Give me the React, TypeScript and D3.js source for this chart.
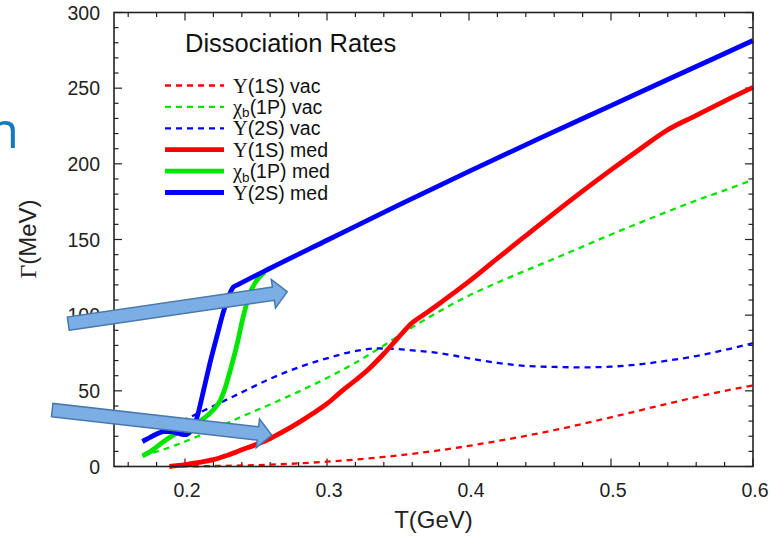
import React from 'react';
import * as d3 from 'd3';

// Axis ranges and ticks
const T_DOMAIN: [number, number] = [0.15, 0.6];
const G_DOMAIN: [number, number] = [0, 300];
const X_TICKS = [0.2, 0.3, 0.4, 0.5, 0.6];
const Y_TICKS = [0, 50, 100, 150, 200, 250, 300];

// Dissociation widths Γ (MeV) versus temperature T (GeV)
const upsilon1SVac: [number, number][] = [
  [0.19, 0], [0.22, 0.3], [0.26, 1.2], [0.30, 3.2], [0.34, 6.3], [0.38, 10.8],
  [0.42, 16.8], [0.46, 24], [0.50, 32.5], [0.54, 41.5], [0.58, 50], [0.60, 53.5],
];
const chib1PVac: [number, number][] = [
  [0.17, 7.5], [0.18, 9.8], [0.20, 16.5], [0.22, 24.5], [0.24, 33], [0.26, 41],
  [0.28, 49.5], [0.30, 58.5], [0.32, 68.5], [0.34, 80], [0.36, 92], [0.38, 103],
  [0.40, 113], [0.42, 121.5], [0.44, 129.5], [0.46, 137.3], [0.48, 145.3],
  [0.50, 153.3], [0.52, 161], [0.54, 168.5], [0.56, 175.8], [0.58, 182.5], [0.60, 189.5],
];
const upsilon2SVac: [number, number][] = [
  [0.17, 17.5], [0.18, 22], [0.20, 31], [0.22, 40], [0.24, 49], [0.26, 58],
  [0.28, 65.5], [0.30, 71.5], [0.32, 76.3], [0.335, 78], [0.35, 77.6], [0.36, 76.8],
  [0.38, 74.8], [0.40, 71.5], [0.42, 68.5], [0.44, 66.5], [0.46, 65.8], [0.48, 65.5],
  [0.50, 66], [0.52, 67.5], [0.54, 70], [0.56, 73], [0.58, 77], [0.60, 81.5],
];
const upsilon1SMed: [number, number][] = [
  [0.189, 0], [0.20, 1.2], [0.21, 2.8], [0.22, 4.5], [0.23, 7.5], [0.24, 11],
  [0.25, 14.5], [0.26, 18.5], [0.27, 23.5], [0.28, 29], [0.29, 35], [0.30, 41.5],
  [0.31, 49.5], [0.32, 57], [0.33, 65], [0.34, 74.5], [0.35, 85], [0.36, 95],
  [0.37, 101.5], [0.38, 108.2], [0.39, 115.2], [0.40, 122.3], [0.42, 137.5],
  [0.44, 152.5], [0.46, 167.5], [0.48, 182], [0.50, 196], [0.52, 209.5],
  [0.54, 222.5], [0.56, 232], [0.58, 241.5], [0.60, 250.5],
];
const chib1PMed: [number, number][] = [
  [0.17, 7], [0.175, 9.5], [0.185, 16.5], [0.195, 22.5], [0.205, 27], [0.212, 31],
  [0.22, 37.5], [0.225, 44], [0.229, 54], [0.232, 64], [0.2365, 80], [0.241, 99],
  [0.2455, 114], [0.2505, 123], [0.256, 128.5],
];
const upsilon2SMed: [number, number][] = [
  [0.17, 16.5], [0.175, 19], [0.18, 21.5], [0.185, 23], [0.19, 23], [0.195, 22],
  [0.20, 21], [0.204, 23.5], [0.208, 31], [0.213, 50], [0.218, 70], [0.223, 88],
  [0.227, 102], [0.231, 113], [0.234, 118.5], [0.237, 120], [0.26, 131],
  [0.30, 149.5], [0.35, 172.5], [0.40, 195], [0.45, 217], [0.50, 238.5],
  [0.55, 260], [0.60, 281.5],
];

const RED = '#ff0000';
const GREEN = '#00e600';
const BLUE = '#0000ff';

type Series = {
  data: [number, number][];
  color: string;
  dashed: boolean;
  sym: string;
  sub?: string;
  rest: string;
};

const SERIES: Series[] = [
  { data: upsilon1SVac, color: RED, dashed: true, sym: 'Υ', rest: '(1S) vac' },
  { data: chib1PVac, color: GREEN, dashed: true, sym: 'χ', sub: 'b', rest: '(1P) vac' },
  { data: upsilon2SVac, color: BLUE, dashed: true, sym: 'Υ', rest: '(2S) vac' },
  { data: upsilon1SMed, color: RED, dashed: false, sym: 'Υ', rest: '(1S) med' },
  { data: chib1PMed, color: GREEN, dashed: false, sym: 'χ', sub: 'b', rest: '(1P) med' },
  { data: upsilon2SMed, color: BLUE, dashed: false, sym: 'Υ', rest: '(2S) med' },
];

// Call-out arrows, tail and tip in (T, Γ) data coordinates
const CALLOUTS: { from: [number, number]; to: [number, number] }[] = [
  { from: [0.1178, 94.4], to: [0.272, 115.5] },
  { from: [0.1065, 37.3], to: [0.2611, 20.8] },
];

const SANS = '"Liberation Sans", Arial, Helvetica, sans-serif';
const SERIF = '"Liberation Serif", "Times New Roman", serif';

function arrowPoints(x0: number, y0: number, x1: number, y1: number) {
  const hw = 6.7, headHW = 14.5, headLen = 14;
  const dx = x1 - x0, dy = y1 - y0;
  const L = Math.hypot(dx, dy);
  const ux = dx / L, uy = dy / L;
  const nx = -uy, ny = ux;
  const bx = x1 - ux * headLen, by = y1 - uy * headLen;
  const p = [
    [x0 + nx * hw, y0 + ny * hw],
    [bx + nx * hw, by + ny * hw],
    [bx + nx * headHW, by + ny * headHW],
    [x1, y1],
    [bx - nx * headHW, by - ny * headHW],
    [bx - nx * hw, by - ny * hw],
    [x0 - nx * hw, y0 - ny * hw],
  ];
  return p.map((q) => q.join(',')).join(' ');
}

export default function App() {
  const W = 770, H = 537;
  const left = 114, right = 753, top = 12.5, bottom = 466.5;
  const x = d3.scaleLinear().domain(T_DOMAIN).range([left, right]);
  const y = d3.scaleLinear().domain(G_DOMAIN).range([bottom, top]);

  const line = d3
    .line<[number, number]>()
    .x((d) => x(d[0]))
    .y((d) => y(d[1]))
    .curve(d3.curveMonotoneX);

  const xMinor = d3.range(0.16, 0.6001, 0.02).filter(
    (v) => !X_TICKS.some((t) => Math.abs(t - v) < 1e-6)
  );
  const yMinor = d3.range(10, 300, 10).filter((v) => v % 50 !== 0);

  const major = 8, minor = 4.5;
  const tickColor = '#222';

  const legendX0 = 165, legendX1 = 224, legendTextX = 233;
  const legendY0 = 85.5, legendDy = 21.4;

  return (
    <svg
      width={W}
      height={H}
      style={{ position: 'absolute', left: 0, top: 0, display: 'block', background: '#fff' }}
    >
      <rect x={0} y={0} width={W} height={H} fill="#fff" />

      {/* slide text fragment at the left edge */}
      <text x={19} y={148} textAnchor="end" fontFamily='"Open Sans", sans-serif' fontSize={50} fill="#1579c2">
        n
      </text>

      {/* tick marks on all four sides */}
      <g stroke={tickColor} strokeWidth={1.2}>
        {X_TICKS.map((t) => (
          <g key={'xt' + t}>
            <line x1={x(t)} x2={x(t)} y1={bottom} y2={bottom - major} />
            <line x1={x(t)} x2={x(t)} y1={top} y2={top + major} />
          </g>
        ))}
        {xMinor.map((t) => (
          <g key={'xm' + t}>
            <line x1={x(t)} x2={x(t)} y1={bottom} y2={bottom - minor} />
            <line x1={x(t)} x2={x(t)} y1={top} y2={top + minor} />
          </g>
        ))}
        {Y_TICKS.map((v) => (
          <g key={'yt' + v}>
            <line x1={left} x2={left + major} y1={y(v)} y2={y(v)} />
            <line x1={right} x2={right - major} y1={y(v)} y2={y(v)} />
          </g>
        ))}
        {yMinor.map((v) => (
          <g key={'ym' + v}>
            <line x1={left} x2={left + minor} y1={y(v)} y2={y(v)} />
            <line x1={right} x2={right - minor} y1={y(v)} y2={y(v)} />
          </g>
        ))}
      </g>

      {/* tick labels */}
      <g fontFamily={SANS} fontSize={19.5} fill="#222">
        {X_TICKS.map((t) => (
          <text key={'xl' + t} x={x(t) + 2} y={497} textAnchor="middle">
            {t.toFixed(1)}
          </text>
        ))}
        {Y_TICKS.map((v) => (
          <text key={'yl' + v} x={100} y={y(v) + 7} textAnchor="end">
            {v}
          </text>
        ))}
      </g>

      {/* axis titles */}
      <text x={433.5} y={528} textAnchor="middle" fontFamily={SANS} fontSize={24} fill="#222">
        T(GeV)
      </text>
      <text
        transform={`translate(36, 239) rotate(-90)`}
        textAnchor="middle"
        fontFamily={SANS}
        fontSize={24}
        fill="#222"
      >
        <tspan fontFamily={SERIF}>Γ</tspan>(MeV)
      </text>

      {/* curves: dashed vacuum widths first, then in-medium widths */}
      <g fill="none" strokeLinejoin="round">
        {SERIES.map((s, i) => (
          <path
            key={'s' + i}
            d={line(s.data) || ''}
            stroke={s.color}
            strokeWidth={s.dashed ? 2.3 : 4.8}
            strokeDasharray={s.dashed ? '6,5' : undefined}
          />
        ))}
      </g>

      {/* plot frame */}
      <rect
        x={left}
        y={top}
        width={right - left}
        height={bottom - top}
        fill="none"
        stroke={tickColor}
        strokeWidth={1.6}
      />

      {/* key */}
      <text x={185} y={52} fontFamily={SANS} fontSize={25.5} fill="#111">
        Dissociation Rates
      </text>
      {SERIES.map((s, i) => {
        const ly = legendY0 + i * legendDy;
        return (
          <g key={'lg' + i}>
            <line
              x1={legendX0}
              x2={legendX1}
              y1={ly}
              y2={ly}
              stroke={s.color}
              strokeWidth={s.dashed ? 2.3 : 4.8}
              strokeDasharray={s.dashed ? '6,5' : undefined}
            />
            <text x={legendTextX} y={ly + 7} fontFamily={SANS} fontSize={19.5} fill="#111">
              <tspan fontFamily={SERIF} fontSize={20.5}>{s.sym}</tspan>
              {s.sub ? (
                <tspan fontSize={13.5} dy={3.5}>{s.sub}</tspan>
              ) : null}
              <tspan dy={s.sub ? -3.5 : 0}>{s.rest}</tspan>
            </text>
          </g>
        );
      })}

      {/* call-out arrows */}
      <g fill="#7aaee4" stroke="#4a78ad" strokeWidth={1.5} strokeLinejoin="miter">
        {CALLOUTS.map((a, i) => (
          <polygon
            key={'ar' + i}
            points={arrowPoints(x(a.from[0]), y(a.from[1]), x(a.to[0]), y(a.to[1]))}
          />
        ))}
      </g>
    </svg>
  );
}
